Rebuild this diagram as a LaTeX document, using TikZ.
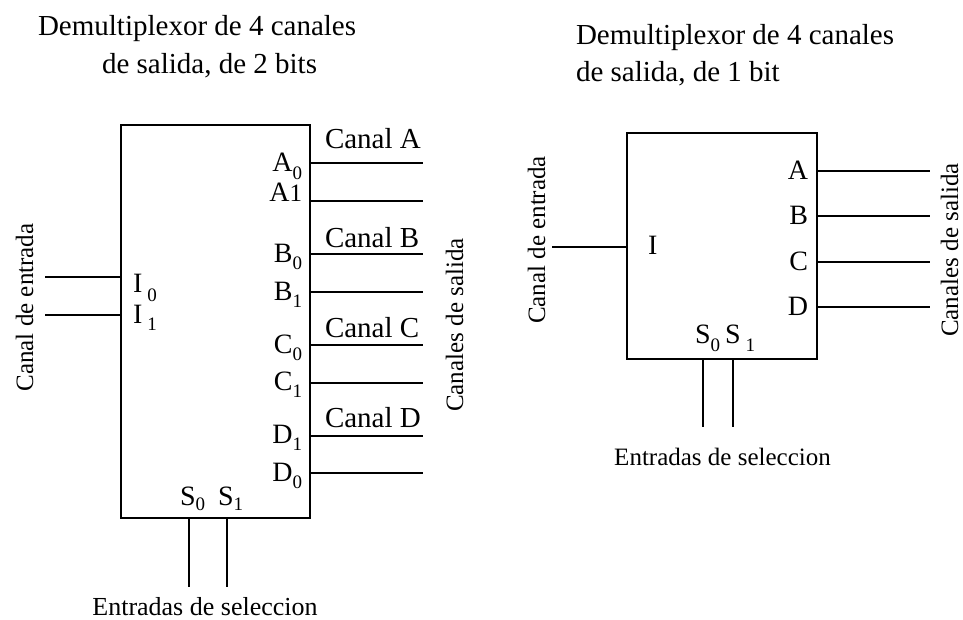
\documentclass[tikz,border=0pt]{standalone}
\usepackage{fontspec}
\setmainfont{Liberation Serif}
\newcommand\fsz[1]{\fontsize{#1}{#1}\selectfont}
\newcommand\lsub[2]{\raisebox{-#1pt}{\fsz{19}#2}}
\tikzset{
  wire/.style={line width=1.2pt},
  boxnode/.style={draw, line width=1.4pt, inner sep=0pt, outer sep=0pt},
  txt/.style={inner sep=0pt, outer sep=0pt},
  title/.style={txt, font=\fsz{29}, anchor=base west},
  canal/.style={txt, font=\fsz{29}, anchor=base west},
  lport/.style={txt, font=\fsz{28}, anchor=base east},
  rport/.style={txt, font=\fsz{28}, anchor=base east},
  side/.style={txt, font=\fsz{25}, rotate=90, anchor=base},
  selt/.style={txt, font=\fsz{26}, anchor=base},
}
\begin{document}
\begin{tikzpicture}[x=1pt,y=-1pt]
\useasboundingbox (0,0) rectangle (963,619);
% ---------- titles
\node[title] (t1) at (38,35) {Demultiplexor de 4 canales};
\node[title] (t2) at (102,73) {de salida, de 2 bits};
\node[title] (t3) at (576,44) {Demultiplexor de 4 canales};
\node[title] (t4) at (576,81) {de salida, de 1 bit};
% ---------- left demultiplexer
\node[boxnode, minimum width=189pt, minimum height=393pt] (L) at (215.5,321.5) {};
\coordinate (li0) at (45,277);
\coordinate (li1) at (45,315);
\draw[wire] (li0) -- (li0 -| L.west);
\draw[wire] (li1) -- (li1 -| L.west);
\node[txt, font=\fsz{28}, anchor=base west] (I0) at (133,292) {I\hspace{5pt}\lsub{9}{0}};
\node[txt, font=\fsz{28}, anchor=base west] (I1) at (133,323) {I\hspace{5pt}\lsub{7}{1}};
\foreach \n/\y in {a0/163, a1/201, b0/254, b1/292, c0/345, c1/383, d1/436, d0/473}{
  \coordinate (\n) at (423,\y);
  \draw[wire] (\n -| L.east) -- (\n);
}
\node[lport] (pA0) at (302,171) {A\lsub{8}{0}};
\node[lport] (pA1) at (302,201) {A{\fsz{25}1}};
\node[lport] (pB0) at (302,262) {B\lsub{7}{0}};
\node[lport] (pB1) at (302,300) {B\lsub{7}{1}};
\node[lport] (pC0) at (302,353) {C\lsub{7}{0}};
\node[lport] (pC1) at (302,390) {C\lsub{7}{1}};
\node[lport] (pD1) at (302,443) {D\lsub{7}{1}};
\node[lport] (pD0) at (302,481) {D\lsub{7}{0}};
\node[canal] (cA) at (325,148) {Canal A};
\node[canal] (cB) at (325,247) {Canal B};
\node[canal] (cC) at (325,337) {Canal C};
\node[canal] (cD) at (325,427) {Canal D};
\node[txt, font=\fsz{28}, anchor=base west] (S0) at (180,505) {S\lsub{5}{0}};
\node[txt, font=\fsz{28}, anchor=base west] (S1) at (218,505) {S\lsub{5}{1}};
\coordinate (ls0) at (189,587);
\coordinate (ls1) at (227,587);
\draw[wire] (ls0 |- L.south) -- (ls0);
\draw[wire] (ls1 |- L.south) -- (ls1);
\node[side] (lin) at (33,307.5) {Canal de entrada};
\node[side] (lout) at (463,325) {Canales de salida};
\node[selt] (lsel) at (205,615) {Entradas de seleccion};
% ---------- right demultiplexer
\node[boxnode, minimum width=190pt, minimum height=226pt] (R) at (722,246) {};
\coordinate (ri) at (552,247);
\draw[wire] (ri) -- (ri -| R.west);
\node[txt, font=\fsz{28}, anchor=base west] (I) at (648,254) {I};
\foreach \n/\y in {ra/171, rb/216, rc/262, rd/307}{
  \coordinate (\n) at (930,\y);
  \draw[wire] (\n -| R.east) -- (\n);
}
\node[rport] (pA) at (808,179) {A};
\node[rport] (pB) at (808,224) {B};
\node[rport] (pC) at (808,270) {C};
\node[rport] (pD) at (808,315) {D};
\node[txt, font=\fsz{28}, anchor=base west] (RS0) at (695,343) {S\lsub{8}{0}};
\node[txt, font=\fsz{28}, anchor=base west] (RS1) at (725,343) {S\hspace{5pt}\lsub{8}{1}};
\coordinate (rs0) at (703,427);
\coordinate (rs1) at (733,427);
\draw[wire] (rs0 |- R.south) -- (rs0);
\draw[wire] (rs1 |- R.south) -- (rs1);
\node[side] (rin) at (545,240) {Canal de entrada};
\node[side] (rout) at (958,250) {Canales de salida};
\node[selt, font=\fsz{25}] (rsel) at (722.5,465) {Entradas de seleccion};
\end{tikzpicture}
\end{document}
